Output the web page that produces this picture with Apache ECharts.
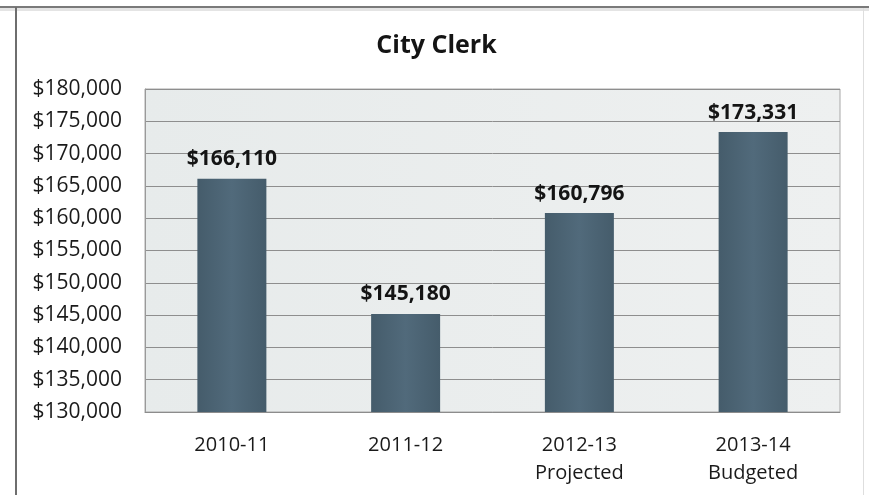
<!DOCTYPE html>
<html>
<head>
<meta charset="utf-8">
<script src="https://cdn.jsdelivr.net/npm/echarts@6/dist/echarts.min.js"></script>
<style>
  html, body { margin: 0; padding: 0; background: #ffffff; }
  #chart { width: 873px; height: 495px; }
</style>
</head>
<body>
<div id="chart"></div>
<script>
// City Clerk expenditures by fiscal year
const categories = ['2010-11', '2011-12', '2012-13\nProjected', '2013-14\nBudgeted'];
const amounts = [166110, 145180, 160796, 173331];
const yMin = 130000;
const yMax = 180000;
const yStep = 5000;

const money = v => '$' + Math.round(v).toLocaleString('en-US');
const FONT = '"Open Sans", "Noto Sans", sans-serif';

const chart = echarts.init(document.getElementById('chart'), null, { renderer: 'canvas' });

chart.setOption({
  animation: false,
  backgroundColor: '#ffffff',
  title: {
    text: 'City Clerk',
    left: 'center',
    top: 28,
    textStyle: { fontFamily: FONT, fontSize: 25, fontWeight: 'bold', color: '#141414' }
  },
  graphic: [
    // outer chart frame: top and left edges
    { type: 'rect', shape: { x: 0, y: 6, width: 869, height: 2 }, style: { fill: '#7a7a7a' }, z: 10 },
    { type: 'rect', shape: { x: 0, y: 8, width: 869, height: 3 }, style: { fill: '#e4e4e4' }, z: 10 },
    { type: 'rect', shape: { x: 15, y: 7, width: 2, height: 488 }, style: { fill: '#6e6e6e' }, z: 10 },
    { type: 'rect', shape: { x: 863, y: 8, width: 1, height: 487 }, style: { fill: '#dedede' }, z: 10 }
  ],
  grid: {
    left: 145,
    top: 89,
    width: 695,
    height: 323,
    show: true,
    backgroundColor: new echarts.graphic.LinearGradient(0, 0, 1, 0, [
      { offset: 0, color: '#e7ebeb' },
      { offset: 1, color: '#eef0f0' }
    ]),
    borderColor: '#a8a8a8',
    borderWidth: 1
  },
  xAxis: {
    type: 'category',
    data: categories,
    axisLine: { show: true, lineStyle: { color: '#8c8c8c', width: 1 } },
    axisTick: { show: false },
    axisLabel: {
      fontFamily: FONT,
      fontSize: 20,
      color: '#1a1a1a',
      margin: 19,
      lineHeight: 28
    }
  },
  yAxis: {
    type: 'value',
    min: yMin,
    max: yMax,
    interval: yStep,
    axisLine: { show: true, lineStyle: { color: '#9a9a9a' } },
    axisTick: { show: false },
    splitLine: { show: true, lineStyle: { color: '#8e8e8e', width: 1 } },
    axisLabel: {
      fontFamily: FONT,
      fontSize: 21,
      color: '#1a1a1a',
      margin: 23,
      formatter: v => money(v)
    }
  },
  series: [{
    type: 'bar',
    data: amounts,
    barWidth: 69,
    itemStyle: {
      color: new echarts.graphic.LinearGradient(0, 0, 1, 0, [
        { offset: 0, color: '#455c6b' },
        { offset: 0.5, color: '#516a7b' },
        { offset: 1, color: '#455c6b' }
      ])
    },
    label: {
      show: true,
      position: 'top',
      distance: 9,
      fontFamily: FONT,
      fontSize: 21,
      fontWeight: 'bold',
      color: '#141414',
      formatter: p => money(p.value)
    }
  }]
});
</script>
</body>
</html>
